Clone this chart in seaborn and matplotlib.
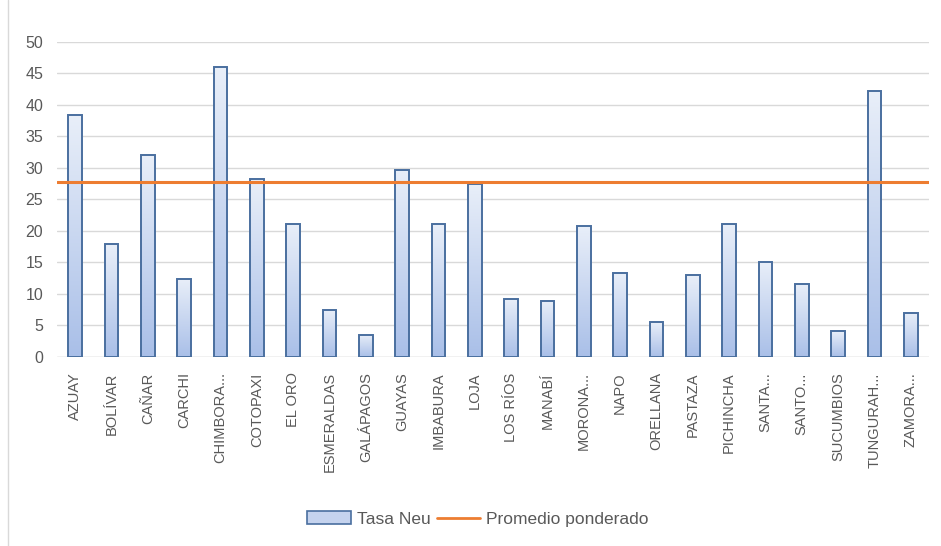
import matplotlib
matplotlib.use("Agg")
import matplotlib.pyplot as plt
import seaborn as sns
import numpy as np
import pandas as pd
from matplotlib.lines import Line2D
from matplotlib.patches import Patch
from matplotlib.colors import LinearSegmentedColormap

provincias = ["AZUAY", "BOLÍVAR", "CAÑAR", "CARCHI", "CHIMBORA...", "COTOPAXI", "EL ORO",
              "ESMERALDAS", "GALÁPAGOS", "GUAYAS", "IMBABURA", "LOJA", "LOS RÍOS", "MANABÍ",
              "MORONA...", "NAPO", "ORELLANA", "PASTAZA", "PICHINCHA", "SANTA...", "SANTO...",
              "SUCUMBIOS", "TUNGURAH...", "ZAMORA..."]
tasa_neu = [38.4, 17.9, 32.1, 12.4, 46.0, 28.3, 21.1, 7.5, 3.5, 29.7, 21.1, 27.5, 9.2, 8.9,
            20.8, 13.3, 5.5, 13.0, 21.1, 15.1, 11.6, 4.1, 42.2, 7.0]
promedio = 27.7
yticks = [0, 5, 10, 15, 20, 25, 30, 35, 40, 45, 50]

df = pd.DataFrame({"prov": provincias, "tasa": tasa_neu})

sns.set_style("white")
plt.rcParams['font.family'] = ['Liberation Sans', 'DejaVu Sans']

fig = plt.figure(figsize=(9.41, 5.46), dpi=100)
ax = fig.add_axes([57/941, 1-357/546, (929-57)/941, (357-41.7)/546])

sns.barplot(data=df, x="prov", y="tasa", ax=ax, width=0.37, color="#c5d3ee",
            edgecolor="#4a6f9f", linewidth=1.4, zorder=3)

# gradient fill inside bars
cmap = LinearSegmentedColormap.from_list("g", ["#a9bfe8", "#e9eff9"])
grad = np.linspace(0, 1, 256).reshape(-1, 1)
for p in ax.patches:
    x0, y0 = p.get_x(), p.get_y()
    w, h = p.get_width(), p.get_height()
    im = ax.imshow(grad, extent=[x0, x0 + w, y0, y0 + h], origin="lower", cmap=cmap,
                   aspect="auto", zorder=3.5)
    im.set_clip_path(p)
    p.set_facecolor("none")
    p.set_zorder(4)

ax.axhline(promedio, color="#ed7d31", lw=2.2, zorder=5)

ax.set_xlim(-0.5, len(provincias) - 0.5)
ax.set_ylim(0, 50)
ax.set_yticks(yticks)
ax.yaxis.grid(True, color="#d9d9d9", lw=1)
ax.set_axisbelow(True)
for s in ax.spines.values():
    s.set_visible(False)
ax.axhline(0, color="#d9d9d9", lw=1, zorder=2)
ax.tick_params(axis="both", length=0, colors="#595959")
ax.tick_params(axis="y", pad=10, labelsize=11.5)
ax.tick_params(axis="x", pad=11, labelsize=10.5)
ax.set_xticks(range(len(provincias)))
ax.set_xticklabels(provincias, rotation=90, va="top", ha="center")
ax.set_xlabel("")
ax.set_ylabel("")

# chart frame line on the left
fig.add_artist(Line2D([8/941, 8/941], [0, 1], color="#d9d9d9", lw=1))

handles = [Patch(facecolor="#c5d3ee", edgecolor="#4a6f9f", linewidth=1.2),
           Line2D([0], [0], color="#ed7d31", lw=2)]
fig.legend(handles, ["Tasa Neu", "Promedio ponderado"], loc="center",
           bbox_to_anchor=(478/941, 1-519/546), ncol=2, frameon=False,
           fontsize=12.5, labelcolor="#595959", handlelength=2.5, handletextpad=0.35,
           columnspacing=0.35)

fig.savefig("out.png", dpi=100)
